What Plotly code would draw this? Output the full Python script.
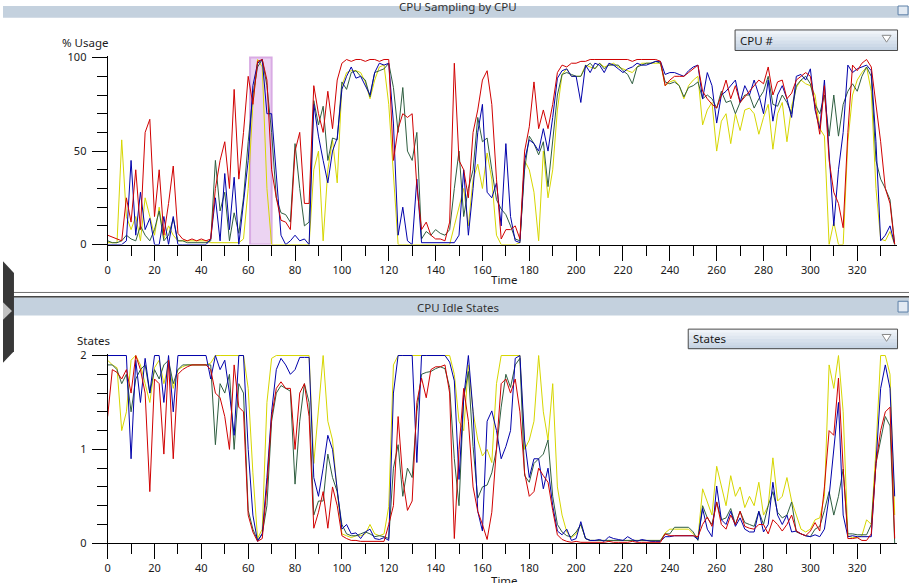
import plotly.graph_objects as go

# ---------------- data ----------------
time = list(range(0, 337, 2))

cpu_red = [5, 4, 3, 2, 25, 12, 40, 8, 60, 67,
           15, 40, 5, 22, 42, 6, 3, 2, 3, 2,
           3, 2, 3, 30, 45, 55, 30, 83, 35, 60,
           90, 75, 98, 99, 88, 40, 25, 13, 12, 8,
           50, 60, 22, 22, 85, 70, 60, 82, 62, 88,
           97, 99, 98, 99, 99, 98, 99, 99, 98, 99,
           99, 45, 62, 70, 68, 70, 31, 8, 12, 5,
           3, 3, 2, 12, 97, 45, 40, 25, 60, 72,
           88, 93, 75, 35, 3, 8, 8, 10, 3, 50,
           63, 87, 62, 72, 62, 75, 92, 96, 95, 97,
           97, 98, 98, 99, 99, 99, 99, 99, 99, 99,
           99, 99, 98, 99, 99, 99, 99, 99, 98, 85,
           88, 90, 90, 90, 92, 94, 96, 82, 78, 75,
           73, 80, 88, 78, 85, 76, 79, 82, 85, 88,
           86, 95, 80, 87, 88, 78, 81, 88, 90, 92,
           90, 75, 59, 85, 45, 28, 22, 9, 60, 96,
           93, 97, 99, 95, 75, 55, 30, 22, 0]

cpu_blue = [0, 0, 0, 0, 2, 45, 5, 28, 8, 14,
            0, 0, 15, 0, 15, 0, 0, 0, 0, 0,
            0, 0, 3, 25, 2, 38, 8, 36, 0, 22,
            45, 85, 97, 99, 70, 70, 35, 5, 0, 2,
            5, 2, 3, 0, 75, 58, 45, 33, 50, 57,
            83, 90, 95, 89, 90, 85, 80, 92, 97, 96,
            97, 65, 5, 20, 2, 0, 35, 1, 1, 1,
            1, 1, 1, 1, 1, 5, 40, 5, 30, 60,
            75, 28, 25, 33, 10, 54, 15, 2, 1, 45,
            56, 54, 50, 62, 50, 68, 89, 93, 94, 90,
            90, 76, 96, 92, 97, 96, 92, 97, 96, 94,
            92, 94, 95, 97, 96, 96, 97, 98, 98, 91,
            92, 92, 91, 90, 93, 95, 96, 78, 92, 85,
            65, 80, 82, 85, 88, 76, 85, 80, 88, 80,
            70, 88, 66, 80, 85, 78, 68, 90, 91, 88,
            94, 72, 62, 88, 50, 10, 40, 60, 96, 92,
            94, 95, 96, 93, 55, 2, 5, 10, 0]

cpu_green = [2, 1, 1, 2, 5, 3, 2, 10, 5, 2,
             8, 18, 2, 5, 14, 2, 2, 1, 1, 1,
             1, 1, 2, 45, 18, 28, 2, 17, 6, 25,
             55, 80, 95, 99, 85, 60, 25, 17, 16, 12,
             54, 30, 10, 12, 77, 64, 74, 45, 57, 56,
             87, 83, 92, 93, 90, 88, 79, 92, 93, 94,
             97, 84, 60, 84, 50, 45, 60, 3, 7, 5,
             8, 6, 5, 8, 30, 50, 15, 30, 40, 68,
             55, 57, 40, 24, 19, 16, 10, 3, 2, 40,
             58, 54, 48, 55, 31, 54, 80, 91, 92, 91,
             90, 90, 95, 97, 94, 97, 94, 96, 96, 96,
             93, 91, 86, 95, 96, 97, 97, 98, 97, 87,
             86, 87, 85, 79, 84, 85, 87, 78, 80, 78,
             73, 82, 76, 77, 70, 76, 80, 80, 73, 78,
             82, 90, 75, 74, 80, 76, 70, 85, 88, 90,
             86, 75, 70, 80, 58, 80, 58, 75, 82, 86,
             82, 90, 95, 90, 45, 35, 30, 24, 0]

cpu_yellow = [1, 1, 1, 56, 15, 8, 15, 2, 25, 15,
              5, 20, 3, 10, 5, 2, 2, 2, 2, 2,
              2, 2, 1, 1, 1, 1, 1, 1, 1, 3,
              30, 75, 99, 95, 30, 0, 0, 0, 0, 0,
              0, 0, 0, 0, 40, 50, 2, 40, 56, 33,
              85, 92, 93, 93, 92, 87, 78, 88, 95, 96,
              75, 40, 0, 0, 0, 0, 0, 0, 0, 0,
              0, 0, 0, 0, 10, 20, 30, 10, 35, 43,
              30, 49, 35, 5, 0, 0, 0, 0, 1, 45,
              40, 28, 2, 50, 25, 40, 72, 91, 94, 90,
              90, 90, 96, 95, 94, 97, 95, 96, 97, 95,
              94, 93, 92, 95, 97, 97, 97, 97, 97, 85,
              87, 88, 85, 78, 85, 88, 90, 64, 72, 76,
              50, 66, 70, 54, 70, 61, 72, 73, 70, 59,
              68, 75, 51, 70, 76, 55, 74, 84, 88, 86,
              85, 80, 62, 58, 0, 12, 0, 0, 55, 80,
              88, 92, 95, 82, 30, 3, 2, 7, 0]

idle_red = [1.35, 1.85, 1.82, 1.75, 1.85, 1.6, 2.0, 1.85, 1.6, 0.55,
            1.75, 1.7, 0.95, 1.95, 0.9, 1.8, 1.85, 1.88, 1.9, 1.9,
            1.9, 1.9, 1.85, 1.6, 1.55, 1.35, 1.0, 1.9, 1.45, 1.4,
            0.3, 0.12, 0.02, 0.05, 0.6, 1.35, 1.65, 1.72, 1.65, 1.65,
            1.0, 1.6, 1.7, 1.35, 0.16, 0.33, 0.55, 0.16, 0.6, 0.4,
            0.08, 0.05, 0.03, 0.03, 0.02, 0.02, 0.02, 0.02, 0.02, 0.02,
            0.2, 0.4, 1.35, 0.68, 0.35, 0.45, 1.5, 1.76, 1.55, 1.85,
            1.88, 1.88, 1.9, 1.6, 0.05, 1.0, 1.65, 1.3, 0.6, 0.34,
            0.2, 0.04, 0.33, 1.0, 1.7, 1.75, 1.6, 1.75, 1.4, 0.75,
            0.5, 0.55, 0.8, 0.72, 0.65, 0.35, 0.09, 0.04, 0.02, 0.01,
            0.02, 0.01, 0.01, 0.01, 0.01, 0.01, 0.01, 0.02, 0.01, 0.01,
            0.01, 0.01, 0.02, 0.01, 0.01, 0.01, 0.01, 0.01, 0.01, 0.1,
            0.08, 0.08, 0.08, 0.08, 0.08, 0.08, 0.07, 0.2, 0.28, 0.18,
            0.44, 0.2, 0.15, 0.3, 0.2, 0.34, 0.18, 0.16, 0.15, 0.2,
            0.2, 0.1, 0.25, 0.2, 0.13, 0.2, 0.3, 0.13, 0.1, 0.08,
            0.13, 0.22, 0.13, 0.6, 1.2, 1.15, 1.76, 0.8, 0.05, 0.05,
            0.06, 0.03, 0.03, 0.1, 0.85, 1.2, 1.4, 1.45, 0.05]

idle_blue = [2, 2, 2, 2, 2, 0.9, 1.95, 1.5, 1.97, 1.6,
             2, 2, 1.5, 2, 1.4, 2, 2, 2, 2, 2,
             2, 2, 1.75, 2, 1.85, 1.95, 1.6, 1.15, 2, 2,
             1.0, 0.3, 0.02, 0.1, 0.7, 1.4, 1.85, 1.97, 1.9, 1.8,
             1.85, 1.98, 1.98, 1.98, 0.7, 0.5, 0.8, 1.15, 1.0, 0.6,
             0.15, 0.2, 0.1, 0.11, 0.05, 0.12, 0.15, 0.05, 0.04, 0.06,
             0.03, 1.6, 2, 2, 2, 2, 0.86, 2, 2, 2,
             2, 2, 2, 1.93, 1.73, 0.68, 1.55, 2, 1.4, 0.34,
             0.13, 1.3, 1.41, 1.2, 0.9, 1.03, 1.2, 1.97, 2, 1.1,
             0.7, 0.9, 0.9, 0.58, 0.8, 0.4, 0.13, 0.09, 0.15, 0.03,
             0.05, 0.23, 0.05, 0.03, 0.03, 0.04, 0.02, 0.07, 0.05, 0.04,
             0.03, 0.07, 0.04, 0.02, 0.04, 0.03, 0.02, 0.02, 0.02, 0.07,
             0.07, 0.08, 0.08, 0.08, 0.08, 0.08, 0.04, 0.37, 0.15, 0.07,
             0.61, 0.25, 0.2, 0.34, 0.18, 0.27, 0.15, 0.12, 0.12, 0.34,
             0.12, 0.2, 0.65, 0.3, 0.2, 0.3, 0.12, 0.13, 0.1, 0.08,
             0.07, 0.09, 0.07, 0.15, 0.5, 1.03, 1.5, 0.3, 0.07, 0.08,
             0.07, 0.07, 0.07, 0.07, 0.85, 1.65, 1.9, 1.65, 0.5]

idle_green = [1.9, 1.9, 1.85, 1.7, 1.8, 1.4, 1.75, 1.85, 1.9, 1.6,
              1.85, 1.75, 1.9, 1.95, 1.7, 1.85, 1.9, 1.9, 1.9, 1.9,
              1.9, 1.9, 1.9, 1.05, 1.7, 1.6, 1.8, 1.0, 1.7, 1.6,
              0.35, 0.15, 0.03, 0.1, 0.4, 1.3, 1.6, 1.68, 1.65, 1.62,
              0.63, 1.3, 1.7, 1.5, 0.3, 0.45, 0.45, 0.95, 0.7, 0.55,
              0.2, 0.1, 0.08, 0.08, 0.1, 0.12, 0.1, 0.07, 0.08, 0.07,
              0.05, 0.8, 1.05, 0.5, 0.8, 0.7, 1.4, 1.8, 1.82, 1.83,
              1.86, 1.88, 1.86, 1.66, 0.9, 0.4, 1.55, 1.83, 1.03, 0.48,
              0.6, 0.62, 0.75, 1.0, 1.45, 1.8, 1.66, 1.9, 1.97, 0.72,
              0.65, 0.85, 0.9, 0.95, 1.1, 0.5, 0.2, 0.12, 0.08, 0.07,
              0.12, 0.2, 0.05, 0.03, 0.03, 0.03, 0.03, 0.03, 0.03, 0.03,
              0.03, 0.03, 0.03, 0.03, 0.03, 0.03, 0.03, 0.03, 0.03, 0.1,
              0.1, 0.17, 0.17, 0.17, 0.17, 0.12, 0.03, 0.4, 0.27, 0.2,
              0.44, 0.25, 0.27, 0.37, 0.2, 0.34, 0.22, 0.2, 0.18, 0.34,
              0.2, 0.4, 0.55, 0.33, 0.27, 0.3, 0.44, 0.12, 0.1, 0.08,
              0.07, 0.15, 0.18, 0.35, 0.55, 0.3, 0.5, 0.79, 0.1, 0.1,
              0.09, 0.09, 0.09, 0.2, 0.85, 1.1, 1.35, 1.25, 0]

idle_yellow = [1.95, 1.9, 1.87, 1.2, 1.4, 1.95, 2.0, 1.9, 1.7, 1.5,
               1.87, 1.95, 1.7, 1.9, 1.65, 1.85, 1.88, 1.9, 1.9, 1.9,
               1.9, 1.9, 1.92, 2, 2, 2, 2, 2, 2, 2,
               1.65, 0.75, 0.05, 0.15, 1.5, 1.97, 2, 2, 2, 2,
               2, 2, 2, 2, 0.85, 1.4, 2, 1.3, 1.1, 0.55,
               0.1, 0.08, 0.06, 0.08, 0.08, 0.1, 0.2, 0.1, 0.08, 0.1,
               0.39, 1.9, 2, 2, 2, 2, 2, 2, 2, 2,
               2, 2, 2, 2, 1.8, 1.3, 1.2, 1.9, 1.4, 1.1,
               0.93, 1.0, 0.86, 1.7, 2, 2, 2, 2, 2, 1.0,
               1.1, 1.3, 2.0, 1.4, 1.1, 1.7, 0.6, 0.3, 0.12, 0.06,
               0.1, 0.2, 0.05, 0.03, 0.03, 0.03, 0.03, 0.03, 0.03, 0.03,
               0.03, 0.03, 0.03, 0.03, 0.03, 0.03, 0.03, 0.03, 0.03, 0.11,
               0.15, 0.15, 0.15, 0.15, 0.15, 0.1, 0.05, 0.58, 0.45, 0.3,
               0.82, 0.6, 0.4, 0.72, 0.5, 0.6, 0.38, 0.5, 0.4, 0.65,
               0.3, 0.4, 0.91, 0.45, 0.5, 0.7, 0.45, 0.3, 0.15, 0.12,
               0.15, 0.25, 0.27, 0.5, 1.9, 1.65, 2.0, 1.4, 0.08, 0.06,
               0.06, 0.08, 0.25, 0.2, 1.0, 2.0, 2.0, 1.8, 0.3]

x_major = [0, 20, 40, 60, 80, 100, 120, 140, 160, 180, 200, 220, 240, 260, 280, 300, 320]
usage_major = [0, 50, 100]
states_major = [0, 1, 2]
highlight_start, highlight_end = 60.8, 70.0

# ---------------- geometry (pixels) ----------------
W, H = 909, 583
def px(x): return x / W
def py(y): return 1 - y / H

X_LEFT, X_RIGHT, T_MAX = 105, 897, 337
TOP_Y0, TOP_PPU, TOP_MAX = 244.0, 1.912, 101.0
BOT_Y0, BOT_PPU, BOT_MAX = 549.5, 96.0, 2.02

COL = {"red": "#d00000", "blue": "#0000aa", "green": "#2f5e40", "yellow": "#d6d600"}
FONT = "Noto Sans"
TXT = "#1a1a1a"

fig = go.Figure()
series_top = [("yellow", cpu_yellow), ("green", cpu_green), ("blue", cpu_blue), ("red", cpu_red)]
series_bot = [("yellow", idle_yellow), ("green", idle_green), ("blue", idle_blue), ("red", idle_red)]
for name, vals in series_top:
    fig.add_trace(go.Scatter(x=time, y=vals, mode="lines", line=dict(color=COL[name], width=1),
                             xaxis="x", yaxis="y", showlegend=False, hoverinfo="skip"))
for name, vals in series_bot:
    fig.add_trace(go.Scatter(x=time, y=vals, mode="lines", line=dict(color=COL[name], width=1),
                             xaxis="x2", yaxis="y2", showlegend=False, hoverinfo="skip"))

tickfont = dict(family=FONT, size=11, color=TXT)
odd5 = [v for v in range(5, T_MAX, 10)]
ten_x = [v for v in range(10, T_MAX, 20)]

def xaxis_main(anchor):
    return dict(domain=[px(X_LEFT), px(X_RIGHT)], range=[0, T_MAX], anchor=anchor,
                showline=True, linecolor="black", linewidth=1, showgrid=False, zeroline=False,
                ticks="outside", tickvals=x_major, ticklen=15, tickcolor="black", tickwidth=1,
                tickfont=tickfont, ticklabelstandoff=0,
                minor=dict(tickvals=ten_x, ticklen=10, tickcolor="black", ticks="outside", tickwidth=1))

def xaxis_over(over, anchor):
    return dict(domain=[px(X_LEFT), px(X_RIGHT)], range=[0, T_MAX], overlaying=over, anchor=anchor,
                showline=False, showgrid=False, zeroline=False, showticklabels=False,
                ticks="outside", tickvals=odd5, ticklen=7, tickcolor="#8c8c8c", tickwidth=1)

top_dom = [py(TOP_Y0), py(TOP_Y0 - TOP_MAX * TOP_PPU)]
bot_dom = [py(BOT_Y0), py(BOT_Y0 - BOT_MAX * BOT_PPU)]

fig.update_layout(
    width=W, height=H, margin=dict(l=0, r=0, t=0, b=0), autosize=False,
    paper_bgcolor="white", plot_bgcolor="rgba(0,0,0,0)", showlegend=False,
    xaxis=xaxis_main("y"),
    xaxis2=xaxis_main("y2"),
    xaxis3=xaxis_over("x", "y"),
    xaxis4=xaxis_over("x2", "y2"),
    yaxis=dict(domain=top_dom, range=[0, TOP_MAX], anchor="x",
               showline=True, linecolor="black", linewidth=1, showgrid=False, zeroline=False,
               ticks="outside", tickvals=usage_major, ticklen=15, tickcolor="black",
               tickfont=tickfont, ticklabelstandoff=3,
               minor=dict(tickvals=[10, 20, 30, 40, 60, 70, 80, 90], ticklen=10,
                          tickcolor="black", ticks="outside")),
    yaxis3=dict(domain=top_dom, range=[0, TOP_MAX], anchor="x", overlaying="y",
                showline=False, showgrid=False, zeroline=False, showticklabels=False,
                ticks="outside", tickvals=[v for v in range(5, 100, 10)], ticklen=7,
                tickcolor="#8c8c8c"),
    yaxis2=dict(domain=bot_dom, range=[0, BOT_MAX], anchor="x2",
                showline=True, linecolor="black", linewidth=1, showgrid=False, zeroline=False,
                ticks="outside", tickvals=states_major, ticklen=15, tickcolor="black",
                tickfont=tickfont, ticklabelstandoff=3,
                minor=dict(tickvals=[0.2, 0.4, 0.6, 0.8, 1.2, 1.4, 1.6, 1.8], ticklen=10,
                           tickcolor="black", ticks="outside")),
    yaxis4=dict(domain=bot_dom, range=[0, BOT_MAX], anchor="x2", overlaying="y2",
                showline=False, showgrid=False, zeroline=False, showticklabels=False,
                ticks="outside", tickvals=[0.1, 0.3, 0.5, 0.7, 0.9, 1.1, 1.3, 1.5, 1.7, 1.9],
                ticklen=7, tickcolor="#8c8c8c"),
)

shapes = []
def rect(x0, y0, x1, y1, fill, line=None, lw=0, layer="above"):
    shapes.append(dict(type="rect", xref="paper", yref="paper", x0=px(x0), x1=px(x1),
                       y0=py(y1), y1=py(y0), fillcolor=fill,
                       line=dict(color=line or fill, width=lw), layer=layer))
def poly(points, fill, line=None, lw=0):
    d = "M " + " L ".join(f"{px(a):.5f},{py(b):.5f}" for a, b in points) + " Z"
    shapes.append(dict(type="path", xref="paper", yref="paper", path=d, fillcolor=fill,
                       line=dict(color=line or fill, width=lw), layer="above"))

# highlight band (data coords)
shapes.append(dict(type="rect", xref="x", yref="y", x0=highlight_start, x1=highlight_end, y0=0, y1=100,
                   fillcolor="#ecd4f2", line=dict(color="#d9abe4", width=2), layer="below"))

# title bars and separator
rect(0, 0, W, 12, "#c4d1de")
rect(898, 0, 908, 9, "#e2eaf3", "#5d80a8", 1)
shapes.append(dict(type="line", xref="paper", yref="paper", x0=0, x1=1, y0=py(293), y1=py(293),
                   line=dict(color="#6e6e6e", width=1)))
rect(0, 296.5, W, 298.5, "#474747")
rect(0, 298.5, W, 316.5, "#c4d1de")
rect(898, 302, 908, 313, "#e2eaf3", "#5d80a8", 1)

# dropdowns (simple vertical gradient by strips)
def dropdown(x0, y0, x1, y1):
    n = 6
    c0, c1 = (240, 244, 249), (198, 212, 228)
    hgt = (y1 - y0) / n
    for i in range(n):
        f = i / (n - 1)
        c = tuple(int(c0[k] + (c1[k] - c0[k]) * f) for k in range(3))
        rect(x0, y0 + i * hgt, x1, y0 + (i + 1) * hgt + 0.5, "rgb(%d,%d,%d)" % c)
    shapes.append(dict(type="rect", xref="paper", yref="paper", x0=px(x0), x1=px(x1),
                       y0=py(y1), y1=py(y0), fillcolor="rgba(0,0,0,0)",
                       line=dict(color="#4a4a4a", width=1), layer="above"))
dropdown(734.5, 24.5, 897.5, 45.5)
dropdown(687.5, 330.5, 897.5, 350.5)
poly([(882, 30), (891, 30), (886.5, 37)], "white", "#8a8a8a", 1)
poly([(882, 336), (891, 336), (886.5, 343)], "white", "#8a8a8a", 1)

# left side grip widget
poly([(0, 261), (11, 273), (11, 353), (0, 365)], "#383838")
poly([(0, 303), (9, 312), (0, 321)], "#c2c2c2")

fig.update_layout(shapes=shapes)

def note(text, x, y, xanchor="center", size=11.5, color=TXT):
    fig.add_annotation(text=text, x=px(x), y=py(y), xref="paper", yref="paper",
                       xanchor=xanchor, yanchor="middle", showarrow=False,
                       font=dict(family=FONT, size=size, color=color))

note("CPU Sampling by CPU", 457, 0, color="#333333")
note("CPU Idle States", 457, 308, color="#333333")
note("% Usage", 57, 37, xanchor="left")
note("States", 72, 342, xanchor="left")
note("Time", 503, 280)
note("Time", 503, 588)
note("CPU #", 737, 35, xanchor="left")
note("States", 690, 340, xanchor="left")

fig.write_html("out.html", config={"displayModeBar": False, "responsive": False},
               post_script="document.body.style.margin='0';document.body.style.overflow='hidden';"
                           "document.documentElement.style.overflow='hidden';")
